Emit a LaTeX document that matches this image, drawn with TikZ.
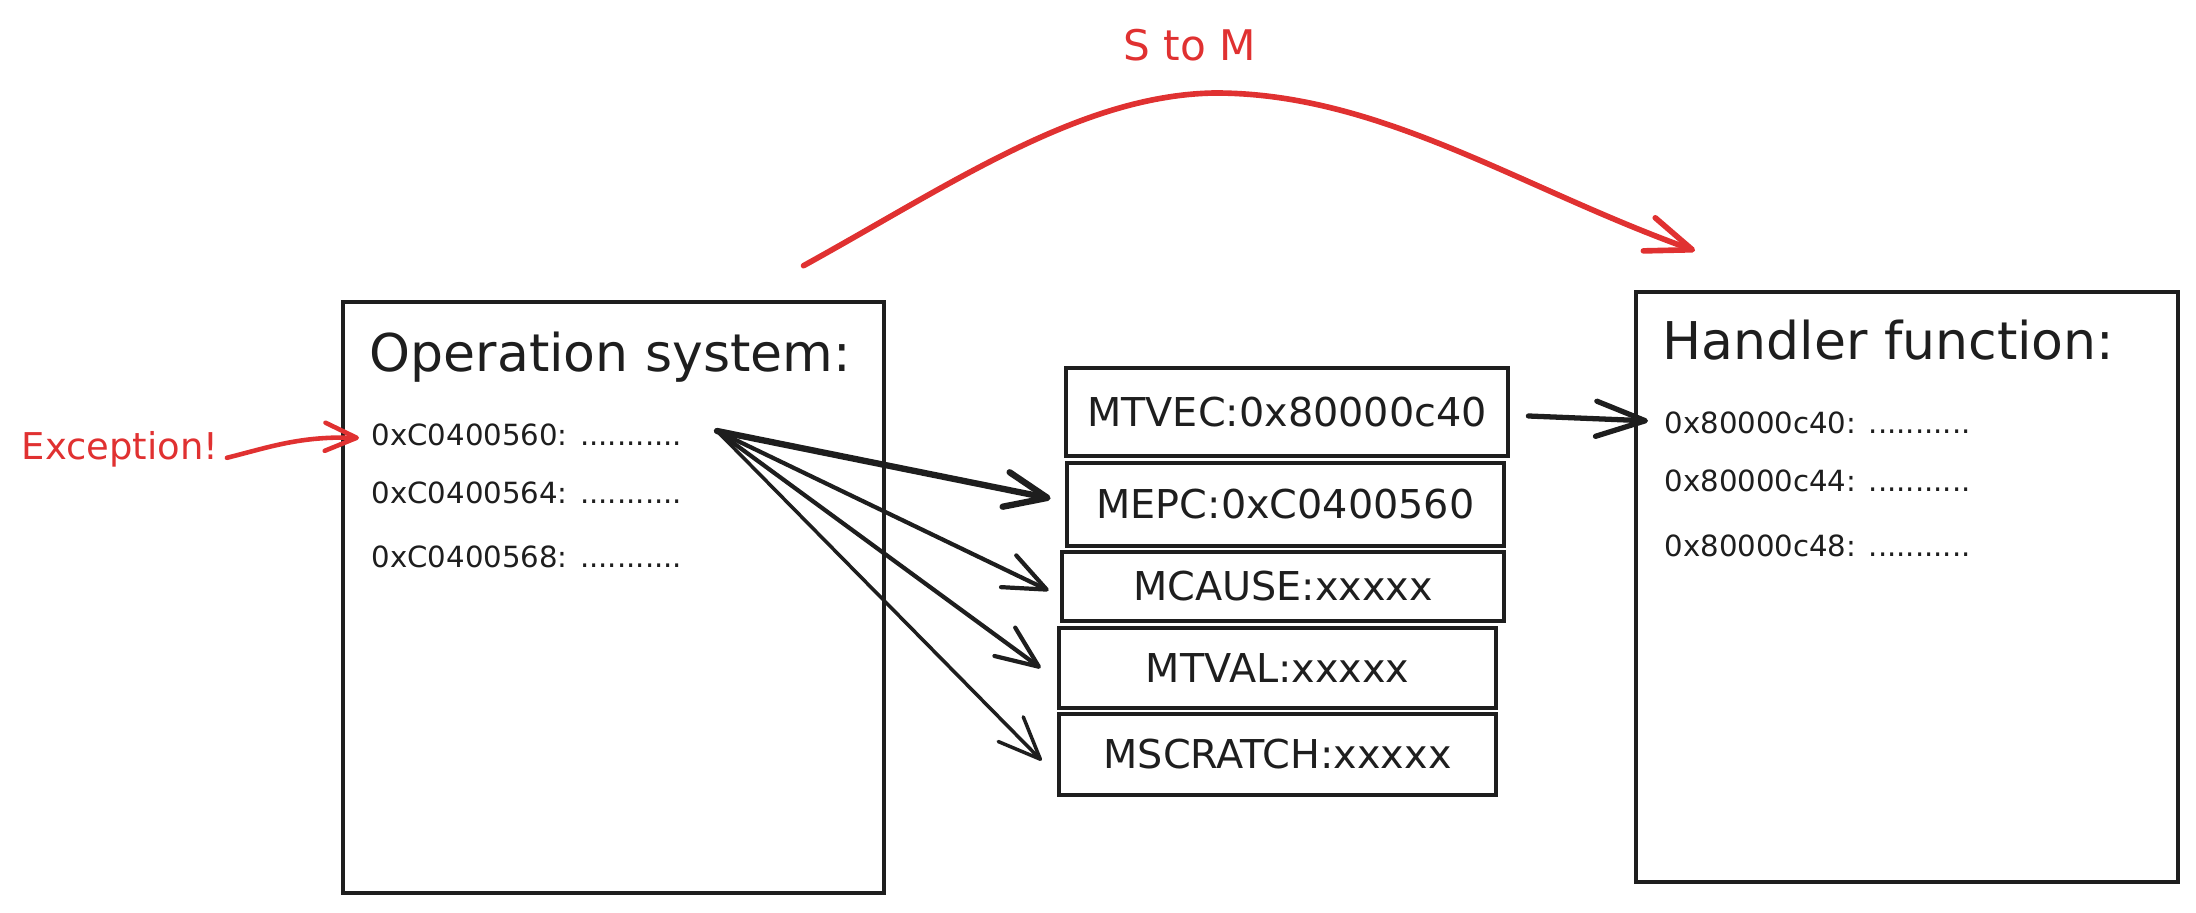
\documentclass[tikz,border=0pt]{standalone}
\usepackage{fontspec}
\setmainfont{DejaVu Sans}
\usetikzlibrary{arrows.meta,calc}
\definecolor{ink}{HTML}{1E1E1E}
\definecolor{redink}{HTML}{E03131}
\begin{document}
\begin{tikzpicture}[x=0.01cm,y=-0.01cm,
  box/.style={draw=ink,line width=1.2pt,inner sep=0pt},
  reg/.style={box,line width=1.3pt,text=ink,font=\fontsize{11.3}{13}\selectfont},
  titletext/.style={anchor=base west,inner sep=0pt,text=ink,font=\fontsize{14.8}{17}\selectfont},
  addr/.style={anchor=base west,inner sep=0pt,text=ink,font=\fontsize{8.3}{10}\selectfont},
  arr/.style={draw=ink,line cap=round,line join=round,-{Straight Barb[length=12pt,width=10pt,round]}},
  redarr/.style={draw=redink,line cap=round,line join=round,line width=1.3pt,-{Straight Barb[length=9pt,width=8pt,round]}}
]
\useasboundingbox (0,0) rectangle (2196,913);

% big boxes
\node[box,minimum width=5.41cm,minimum height=5.91cm] (os) at (613.5,597.5) {};
\node[box,minimum width=5.42cm,minimum height=5.90cm] (hf) at (1907,587) {};

% OS contents
\node[titletext] (ostitle) at (369,372) {Operation system:};
\node[addr] (o1) at (371,445.5) {0xC0400560: ...........};
\node[addr] (o2) at (371,503.5) {0xC0400564: ...........};
\node[addr] (o3) at (371,567.5) {0xC0400568: ...........};

% Handler contents
\node[titletext] (hftitle) at (1662,360) {Handler function:};
\node[addr] (h1) at (1664,433.5) {0x80000c40: ...........};
\node[addr] (h2) at (1664,491.5) {0x80000c44: ...........};
\node[addr] (h3) at (1664,556.5) {0x80000c48: ...........};

% registers
\node[reg,minimum width=4.42cm,minimum height=0.88cm] (mtvec) at (1287,412) {MTVEC:0x80000c40};
\node[reg,minimum width=4.37cm,minimum height=0.83cm] (mepc) at (1285.5,504.5) {MEPC:0xC0400560};
\node[reg,minimum width=4.42cm,minimum height=0.69cm] (mcause) at (1283,586.5) {MCAUSE:xxxxx};
\node[reg,minimum width=4.37cm,minimum height=0.80cm] (mtval) at (1277.5,668) {MTVAL:xxxxx};
\node[reg,minimum width=4.37cm,minimum height=0.81cm] (mscratch) at (1277.5,754.5) {MSCRATCH:xxxxx};

% fan of arrows
\coordinate (fan) at (717,431);
\draw[arr,line width=1.8pt] (fan) -- ($(mepc.west)+(-14,-6)$);
\draw[arr,line width=1.2pt] (fan) -- ($(mcause.west)+(-11,4)$);
\draw[arr,line width=1.2pt] (fan) -- ($(mtval.west)+(-16,0)$);
\draw[arr,line width=1pt] (fan) -- ($(mscratch.west)+(-15,6)$);

% MTVEC -> handler
\draw[arr,line width=1.5pt,-{Straight Barb[length=14pt,width=10pt,round]}] ($(mtvec.east)+(18,4)$) -- ($(h1.west)+(-16,-2)$);

% Exception
\node[anchor=base west,inner sep=0pt,text=redink,font=\fontsize{10.5}{13}\selectfont] (exc) at (21,460) {Exception!};
\draw[redarr] ($(exc.east)+(8,8)$) .. controls (270,447) and (300,436) .. ($(o1.west)+(-12,3)$);

% S to M
\node[inner sep=0pt,text=redink,font=\fontsize{12}{14}\selectfont] (stm) at (1190,45) {S to M};
\draw[redarr,line width=1.6pt,-{Straight Barb[length=13pt,width=10pt,round]}]
  ($(os.north)+(190,-34)$) .. controls (950,185) and (1080,95) .. (1215,93)
  .. controls (1380,93) and (1520,188) .. ($(hf.north)+(-212,-39)$);
\end{tikzpicture}
\end{document}
